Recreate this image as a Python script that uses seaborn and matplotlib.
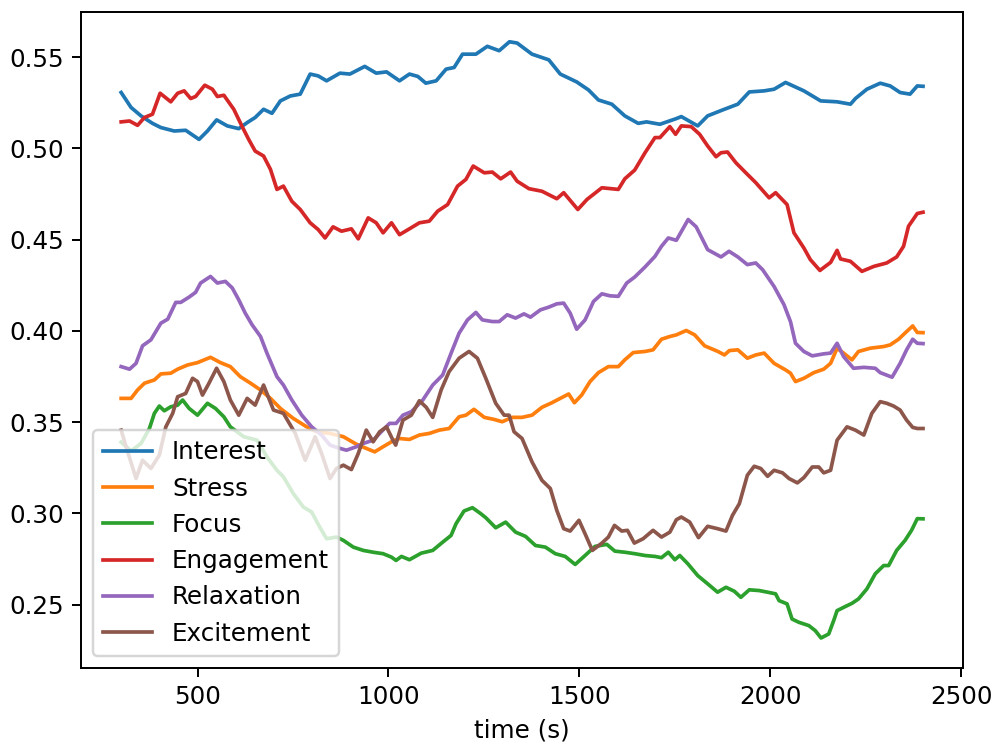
import matplotlib
matplotlib.use("Agg")
import matplotlib.pyplot as plt
import seaborn as sns
import pandas as pd

# ---- data ----
interest_t = [300, 326, 352, 382, 404, 439, 469, 504, 526, 550, 578, 608, 630, 651, 673, 695, 717, 743, 769, 795,
              816, 838, 873, 899, 938, 968, 995, 1029, 1055, 1077, 1098, 1125, 1151, 1172, 1194, 1229, 1259, 1290,
              1317, 1337, 1376, 1420, 1450, 1493, 1524, 1550, 1585, 1619, 1654, 1676, 1711, 1754, 1767, 1810, 1836,
              1876, 1915, 1945, 1984, 2010, 2040, 2088, 2132, 2175, 2210, 2223, 2253, 2288, 2314, 2340, 2366, 2385, 2400]
interest_v = [0.5306, 0.5224, 0.5178, 0.5137, 0.5114, 0.5095, 0.5099, 0.5049, 0.5095, 0.5156, 0.5123, 0.5108, 0.5141,
              0.5169, 0.5214, 0.5192, 0.5260, 0.5287, 0.5297, 0.5407, 0.5397, 0.5370, 0.5412, 0.5407, 0.5449, 0.5412,
              0.5419, 0.5370, 0.5407, 0.5394, 0.5357, 0.5370, 0.5434, 0.5443, 0.5516, 0.5516, 0.5559, 0.5535, 0.5584,
              0.5577, 0.5516, 0.5485, 0.5407, 0.5364, 0.5320, 0.5265, 0.5242, 0.5178, 0.5137, 0.5145, 0.5132, 0.5163,
              0.5174, 0.5123, 0.5178, 0.5211, 0.5242, 0.5309, 0.5315, 0.5324, 0.5361, 0.5315, 0.5260, 0.5255, 0.5242,
              0.5273, 0.5324, 0.5357, 0.5342, 0.5306, 0.5297, 0.5342, 0.5340]

stress_t = [300, 326, 343, 361, 387, 404, 430, 448, 474, 500, 534, 560, 586, 612, 639, 665, 691, 717, 751, 786, 812,
            847, 882, 916, 942, 964, 986, 1012, 1029, 1055, 1081, 1107, 1133, 1159, 1185, 1203, 1224, 1251, 1276, 1298,
            1324, 1350, 1376, 1402, 1428, 1450, 1472, 1487, 1506, 1528, 1550, 1576, 1602, 1619, 1641, 1672, 1693, 1715,
            1737, 1754, 1780, 1802, 1828, 1863, 1880, 1893, 1915, 1940, 1962, 1984, 2010, 2040, 2053, 2066, 2088, 2114,
            2140, 2158, 2175, 2192, 2214, 2231, 2262, 2297, 2314, 2336, 2357, 2373, 2385, 2400]
stress_v = [0.3630, 0.3630, 0.3676, 0.3713, 0.3731, 0.3764, 0.3768, 0.3790, 0.3813, 0.3826, 0.3855, 0.3826, 0.3804,
            0.3749, 0.3713, 0.3676, 0.3630, 0.3575, 0.3520, 0.3474, 0.3447, 0.3438, 0.3420, 0.3379, 0.3356, 0.3337,
            0.3365, 0.3397, 0.3410, 0.3405, 0.3429, 0.3438, 0.3456, 0.3465, 0.3529, 0.3538, 0.3570, 0.3526, 0.3515,
            0.3502, 0.3526, 0.3526, 0.3538, 0.3581, 0.3606, 0.3630, 0.3654, 0.3606, 0.3648, 0.3722, 0.3771, 0.3804,
            0.3804, 0.3841, 0.3881, 0.3887, 0.3896, 0.3954, 0.3969, 0.3978, 0.4002, 0.3978, 0.3918, 0.3887, 0.3868,
            0.3892, 0.3896, 0.3850, 0.3868, 0.3878, 0.3822, 0.3786, 0.3768, 0.3722, 0.3740, 0.3771, 0.3790, 0.3822,
            0.3905, 0.3878, 0.3841, 0.3887, 0.3905, 0.3914, 0.3923, 0.3954, 0.3996, 0.4027, 0.3991, 0.3990]

focus_t = [300, 326, 352, 374, 387, 400, 413, 430, 448, 461, 478, 500, 526, 547, 569, 586, 621, 656, 682, 708, 725,
           751, 777, 799, 820, 838, 864, 882, 908, 934, 960, 986, 1008, 1020, 1034, 1055, 1086, 1116, 1142, 1164, 1177,
           1198, 1220, 1242, 1255, 1281, 1307, 1333, 1359, 1385, 1411, 1437, 1463, 1489, 1515, 1541, 1572, 1593, 1619,
           1645, 1672, 1698, 1715, 1733, 1750, 1763, 1784, 1810, 1836, 1862, 1884, 1906, 1923, 1945, 1971, 1993, 2014,
           2023, 2044, 2057, 2075, 2101, 2118, 2133, 2153, 2166, 2175, 2196, 2214, 2231, 2253, 2275, 2297, 2310, 2331,
           2353, 2370, 2385, 2400]
focus_v = [0.3390, 0.3342, 0.3383, 0.3465, 0.3548, 0.3588, 0.3562, 0.3584, 0.3593, 0.3621, 0.3575, 0.3538, 0.3603,
           0.3575, 0.3529, 0.3474, 0.3420, 0.3401, 0.3309, 0.3236, 0.3200, 0.3108, 0.3035, 0.3007, 0.2925, 0.2861,
           0.2870, 0.2852, 0.2815, 0.2797, 0.2787, 0.2779, 0.2760, 0.2742, 0.2764, 0.2746, 0.2782, 0.2797, 0.2842,
           0.2879, 0.2943, 0.3013, 0.3031, 0.2998, 0.2976, 0.2921, 0.2952, 0.2897, 0.2874, 0.2824, 0.2815, 0.2779,
           0.2764, 0.2720, 0.2769, 0.2819, 0.2830, 0.2793, 0.2787, 0.2779, 0.2769, 0.2764, 0.2757, 0.2787, 0.2746,
           0.2769, 0.2724, 0.2659, 0.2614, 0.2568, 0.2595, 0.2573, 0.2540, 0.2581, 0.2577, 0.2568, 0.2559, 0.2522,
           0.2504, 0.2421, 0.2403, 0.2385, 0.2357, 0.2317, 0.2339, 0.2412, 0.2467, 0.2489, 0.2507, 0.2531, 0.2586,
           0.2669, 0.2714, 0.2714, 0.2797, 0.2852, 0.2907, 0.2971, 0.2970]

engagement_t = [300, 322, 343, 361, 382, 402, 430, 448, 465, 482, 495, 519, 539, 552, 569, 595, 617, 634, 651, 673,
                691, 708, 725, 747, 769, 795, 816, 834, 855, 877, 903, 921, 947, 968, 986, 1008, 1029, 1055, 1081, 1107,
                1129, 1155, 1181, 1203, 1222, 1251, 1272, 1294, 1320, 1337, 1368, 1402, 1441, 1459, 1496, 1520, 1559,
                1602, 1619, 1645, 1672, 1698, 1711, 1737, 1752, 1767, 1793, 1815, 1836, 1858, 1871, 1888, 1910, 1936,
                1962, 1997, 2014, 2044, 2062, 2088, 2105, 2130, 2158, 2175, 2184, 2210, 2240, 2271, 2305, 2331, 2349,
                2362, 2385, 2400]
engagement_v = [0.5145, 0.5150, 0.5126, 0.5169, 0.5187, 0.5302, 0.5255, 0.5302, 0.5315, 0.5273, 0.5284, 0.5346,
                0.5324, 0.5284, 0.5291, 0.5214, 0.5119, 0.5049, 0.4985, 0.4958, 0.4885, 0.4775, 0.4793, 0.4710, 0.4665,
                0.4592, 0.4555, 0.4509, 0.4570, 0.4546, 0.4559, 0.4504, 0.4619, 0.4592, 0.4537, 0.4592, 0.4527, 0.4559,
                0.4592, 0.4601, 0.4656, 0.4692, 0.4793, 0.4830, 0.4903, 0.4866, 0.4870, 0.4833, 0.4870, 0.4820, 0.4779,
                0.4765, 0.4724, 0.4757, 0.4665, 0.4720, 0.4784, 0.4775, 0.4833, 0.4881, 0.4976, 0.5059, 0.5059, 0.5119,
                0.5077, 0.5123, 0.5119, 0.5077, 0.5013, 0.4954, 0.4976, 0.4980, 0.4921, 0.4866, 0.4812, 0.4729, 0.4757,
                0.4692, 0.4537, 0.4454, 0.4390, 0.4331, 0.4375, 0.4441, 0.4394, 0.4381, 0.4326, 0.4353, 0.4372, 0.4405,
                0.4463, 0.4573, 0.4643, 0.4650]

relaxation_t = [300, 322, 339, 356, 378, 404, 422, 443, 456, 478, 495, 508, 534, 552, 573, 591, 608, 625, 643, 665,
                682, 708, 725, 747, 773, 799, 825, 847, 873, 890, 916, 934, 960, 977, 1003, 1020, 1038, 1060, 1090,
                1116, 1142, 1164, 1185, 1207, 1229, 1246, 1272, 1290, 1311, 1333, 1355, 1372, 1398, 1420, 1441, 1459,
                1476, 1493, 1515, 1537, 1559, 1580, 1602, 1624, 1645, 1672, 1698, 1715, 1733, 1754, 1785, 1806, 1836,
                1871, 1892, 1915, 1940, 1962, 1980, 2010, 2036, 2053, 2066, 2088, 2110, 2140, 2158, 2175, 2192, 2218,
                2245, 2275, 2288, 2319, 2340, 2357, 2373, 2385, 2400]
relaxation_v = [0.3804, 0.3790, 0.3822, 0.3918, 0.3951, 0.4042, 0.4064, 0.4156, 0.4156, 0.4185, 0.4211, 0.4262,
                0.4298, 0.4262, 0.4271, 0.4235, 0.4170, 0.4097, 0.4033, 0.3969, 0.3877, 0.3749, 0.3703, 0.3621, 0.3538,
                0.3474, 0.3429, 0.3374, 0.3356, 0.3346, 0.3365, 0.3383, 0.3401, 0.3438, 0.3493, 0.3493, 0.3538, 0.3557,
                0.3621, 0.3703, 0.3758, 0.3877, 0.3987, 0.4060, 0.4101, 0.4060, 0.4051, 0.4051, 0.4088, 0.4070, 0.4093,
                0.4075, 0.4115, 0.4130, 0.4148, 0.4152, 0.4097, 0.4009, 0.4060, 0.4161, 0.4203, 0.4192, 0.4189, 0.4262,
                0.4295, 0.4350, 0.4408, 0.4463, 0.4509, 0.4496, 0.4610, 0.4570, 0.4445, 0.4405, 0.4436, 0.4405, 0.4363,
                0.4372, 0.4335, 0.4243, 0.4143, 0.4050, 0.3932, 0.3887, 0.3863, 0.3874, 0.3878, 0.3932, 0.3859, 0.3795,
                0.3800, 0.3795, 0.3771, 0.3746, 0.3822, 0.3896, 0.3954, 0.3932, 0.3930]

excitement_t = [300, 313, 339, 356, 378, 400, 417, 435, 448, 469, 487, 500, 513, 530, 550, 569, 586, 608, 630, 651,
                673, 699, 725, 756, 782, 808, 825, 847, 864, 882, 903, 921, 942, 960, 977, 995, 1012, 1019, 1038, 1060,
                1081, 1099, 1116, 1138, 1159, 1185, 1211, 1233, 1255, 1281, 1303, 1316, 1329, 1350, 1376, 1402, 1424,
                1441, 1459, 1476, 1499, 1515, 1534, 1559, 1576, 1592, 1611, 1626, 1644, 1667, 1693, 1715, 1737, 1754,
                1767, 1789, 1812, 1836, 1862, 1884, 1901, 1919, 1940, 1958, 1975, 1993, 2010, 2032, 2049, 2071, 2088,
                2110, 2127, 2140, 2158, 2175, 2201, 2223, 2245, 2266, 2288, 2305, 2323, 2340, 2357, 2373, 2385, 2400]
excitement_v = [0.3456, 0.3365, 0.3191, 0.3291, 0.3246, 0.3319, 0.3474, 0.3548, 0.3639, 0.3657, 0.3740, 0.3722,
                0.3648, 0.3713, 0.3795, 0.3722, 0.3621, 0.3538, 0.3630, 0.3593, 0.3703, 0.3566, 0.3548, 0.3438, 0.3291,
                0.3419, 0.3328, 0.3191, 0.3246, 0.3264, 0.3240, 0.3328, 0.3456, 0.3392, 0.3447, 0.3474, 0.3400, 0.3374,
                0.3511, 0.3538, 0.3617, 0.3581, 0.3526, 0.3676, 0.3777, 0.3850, 0.3887, 0.3850, 0.3740, 0.3603, 0.3538,
                0.3538, 0.3447, 0.3410, 0.3282, 0.3181, 0.3136, 0.3016, 0.2916, 0.2903, 0.2962, 0.2888, 0.2797, 0.2837,
                0.2870, 0.2934, 0.2903, 0.2907, 0.2837, 0.2861, 0.2907, 0.2870, 0.2897, 0.2965, 0.2980, 0.2952, 0.2867,
                0.2929, 0.2916, 0.2903, 0.2989, 0.3053, 0.3209, 0.3258, 0.3246, 0.3203, 0.3236, 0.3222, 0.3191, 0.3167,
                0.3196, 0.3254, 0.3254, 0.3222, 0.3236, 0.3401, 0.3474, 0.3456, 0.3429, 0.3548, 0.3612, 0.3603, 0.3588,
                0.3566, 0.3511, 0.3471, 0.3465, 0.3465]

series = [
    ("Interest", interest_t, interest_v),
    ("Stress", stress_t, stress_v),
    ("Focus", focus_t, focus_v),
    ("Engagement", engagement_t, engagement_v),
    ("Relaxation", relaxation_t, relaxation_v),
    ("Excitement", excitement_t, excitement_v),
]
colors = ["#1f77b4", "#ff7f0e", "#2ca02c", "#d62728", "#9467bd", "#8c564b"]

frames = []
for name, t, v in series:
    frames.append(pd.DataFrame({"time (s)": t, "value": v, "metric": name}))
df = pd.concat(frames, ignore_index=True)

DPI = 177
fig = plt.figure(figsize=(997 / DPI, 747 / DPI), dpi=DPI)
ax = fig.add_axes([0.0813, 0.106, 0.8847, 0.878])

sns.lineplot(data=df, x="time (s)", y="value", hue="metric",
             hue_order=[s[0] for s in series], palette=colors,
             estimator=None, sort=False, linewidth=1.5, ax=ax)

ax.set_ylabel("")
ax.set_xlabel("time (s)")
ax.set_xticks([500, 1000, 1500, 2000, 2500])
ax.set_yticks([0.25, 0.30, 0.35, 0.40, 0.45, 0.50, 0.55])
ax.set_yticklabels(["0.25", "0.30", "0.35", "0.40", "0.45", "0.50", "0.55"])
handles, labels = ax.get_legend_handles_labels()
ax.legend(handles, labels, loc="lower left", title=None)

fig.savefig("out.png", dpi=DPI)
